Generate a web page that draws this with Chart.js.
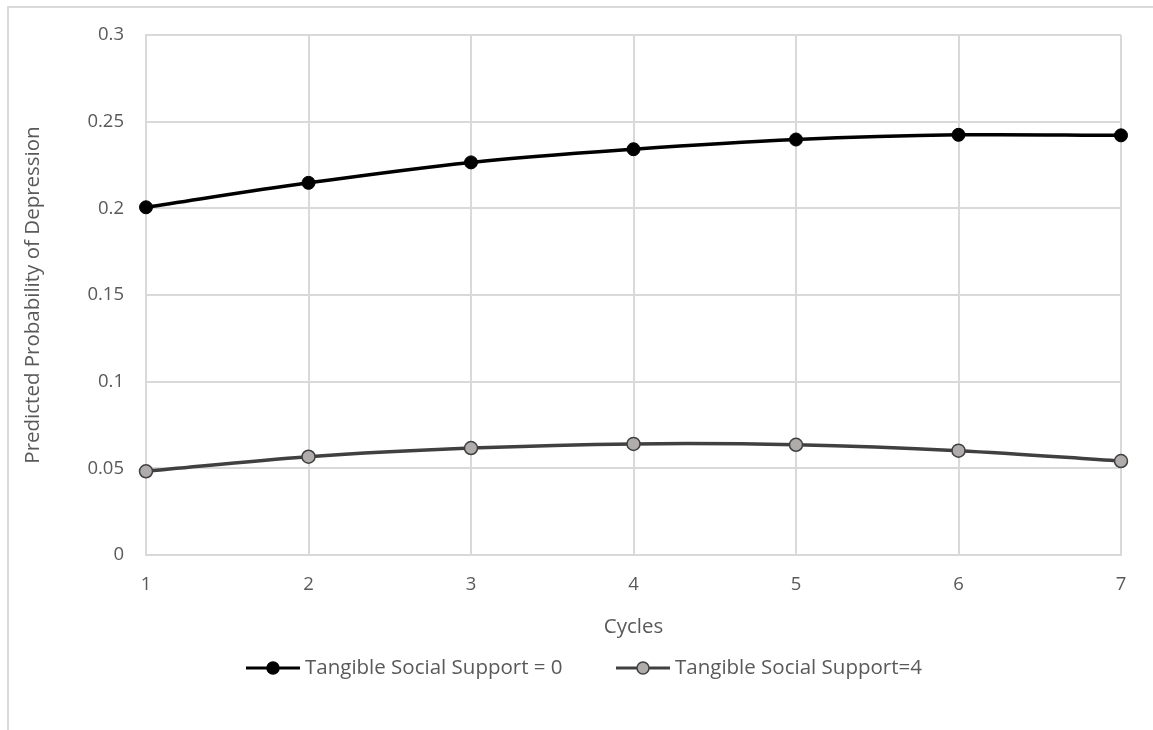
<!DOCTYPE html>
<html>
<head>
<meta charset="utf-8">
<script src="https://cdn.jsdelivr.net/npm/chart.js@4"></script>
<style>
  html, body { margin: 0; padding: 0; background: #fff; }
  #wrap { position: relative; width: 1153px; height: 730px; overflow: hidden; }
  #frame { position: absolute; left: 7px; top: 6px; width: 1150px; height: 740px; border: 2px solid #d9d9d9; box-sizing: border-box; }
  canvas { position: absolute; left: 0; top: 0; }
</style>
</head>
<body>
<div id="wrap">
  <div id="frame"></div>
  <canvas id="chart" width="1153" height="730"></canvas>
</div>
<script>
// values
const cycles = ['1', '2', '3', '4', '5', '6', '7'];
const support0 = [0.2006, 0.2147, 0.2265, 0.2341, 0.2397, 0.2424, 0.2421];
const support4 = [0.0483, 0.0567, 0.0617, 0.0641, 0.0636, 0.0602, 0.0542];
const seriesNames = ['Tangible Social Support = 0', 'Tangible Social Support=4'];

const textColor = '#595959';
const gridColor = '#d9d9d9';
const fontFamily = '"Open Sans", Lato, sans-serif';
const tickSize = 18.5;
const labelSize = 20.5;

// legend drawn like Excel: short line with the marker in the middle
const lineLegend = {
  id: 'lineLegend',
  afterDraw(chart) {
    const ctx = chart.ctx;
    const y = 668;
    const starts = [246, 616];
    ctx.save();
    ctx.font = labelSize + 'px ' + fontFamily;
    ctx.textBaseline = 'middle';
    chart.data.datasets.forEach((ds, i) => {
      const x0 = starts[i];
      ctx.strokeStyle = ds.borderColor;
      ctx.lineWidth = 3;
      ctx.beginPath();
      ctx.moveTo(x0, y);
      ctx.lineTo(x0 + 54, y);
      ctx.stroke();
      ctx.beginPath();
      ctx.arc(x0 + 27, y, 6, 0, Math.PI * 2);
      ctx.fillStyle = ds.pointBackgroundColor;
      ctx.fill();
      ctx.lineWidth = 1.5;
      ctx.strokeStyle = ds.pointBorderColor;
      ctx.stroke();
      ctx.fillStyle = textColor;
      ctx.fillText(ds.label, x0 + 59, y);
    });
    ctx.restore();
  }
};

const ctx = document.getElementById('chart');
new Chart(ctx, {
  type: 'line',
  data: {
    labels: cycles,
    datasets: [{
      label: seriesNames[0],
      data: support0,
      borderColor: '#000000',
      borderWidth: 3.5,
      pointBackgroundColor: '#000000',
      pointBorderColor: '#000000',
      pointBorderWidth: 1,
      pointRadius: 6.5,
      tension: 0.35
    }, {
      label: seriesNames[1],
      data: support4,
      borderColor: '#404040',
      borderWidth: 3.5,
      pointBackgroundColor: '#b0acac',
      pointBorderColor: '#404040',
      pointBorderWidth: 1.5,
      pointRadius: 6.5,
      tension: 0.35
    }]
  },
  options: {
    responsive: false,
    animation: false,
    layout: { padding: { left: 0, right: 32, top: 35, bottom: 85 } },
    plugins: {
      legend: { display: false },
      tooltip: { enabled: false }
    },
    scales: {
      x: {
        grid: { color: gridColor, lineWidth: 2, drawTicks: false },
        border: { color: gridColor, width: 2 },
        ticks: { color: textColor, font: { family: fontFamily, size: tickSize }, padding: 19, maxRotation: 0 },
        title: { display: true, text: 'Cycles', color: textColor, font: { family: fontFamily, size: labelSize }, padding: { top: 0, bottom: 6 } },
        afterFit(scale) { scale.height = 90; }
      },
      y: {
        min: 0,
        max: 0.3,
        grid: { color: gridColor, lineWidth: 2, drawTicks: false },
        border: { color: gridColor, width: 2 },
        ticks: { stepSize: 0.05, color: textColor, font: { family: fontFamily, size: tickSize }, padding: 22,
          callback: v => String(Math.round(v * 100) / 100) },
        title: { display: true, text: 'Predicted Probability of Depression', color: textColor, font: { family: fontFamily, size: labelSize }, padding: { top: 21, bottom: 0 } },
        afterFit(scale) { scale.width = 146; }
      }
    }
  },
  plugins: [lineLegend]
});
</script>
</body>
</html>
